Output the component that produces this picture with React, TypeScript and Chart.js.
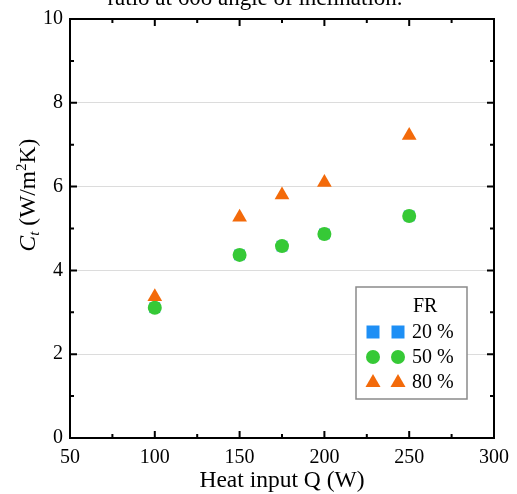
import React, { useEffect, useRef } from "react";
import { Chart, registerables } from "chart.js";

Chart.register(...registerables);

const heatInput = [100, 150, 175, 200, 250];
const fr20 = [3.11, 4.37, 4.58, 4.87, 5.3];
const fr50 = [3.11, 4.37, 4.58, 4.87, 5.3];
const fr80 = [3.37, 5.27, 5.8, 6.1, 7.22];
const seriesLabels = ["20 %", "50 %", "80 %"];
const xTicks = [50, 100, 150, 200, 250, 300];
const yTicks = [0, 2, 4, 6, 8, 10];

const BLUE = "#1e8ff5";
const GREEN = "#36c936";
const ORANGE = "#f36a0a";
const SERIF = "'Liberation Serif', 'DejaVu Serif', serif";

const framePlugin = {
  id: "framePlugin",
  afterDraw(chart: any) {
    const { ctx, chartArea: a, scales } = chart;
    const xs = scales.x;
    const ys = scales.y;
    ctx.save();
    ctx.strokeStyle = "#000";
    ctx.lineWidth = 2;
    ctx.strokeRect(a.left, a.top, a.right - a.left, a.bottom - a.top);
    ctx.beginPath();
    for (let v = 50; v <= 300; v += 25) {
      const px = xs.getPixelForValue(v);
      const len = v % 50 === 0 ? 7 : 4;
      ctx.moveTo(px, a.bottom);
      ctx.lineTo(px, a.bottom - len);
      ctx.moveTo(px, a.top);
      ctx.lineTo(px, a.top + len);
    }
    for (let v = 0; v <= 10; v += 1) {
      const py = ys.getPixelForValue(v);
      const len = v % 2 === 0 ? 7 : 4;
      ctx.moveTo(a.left, py);
      ctx.lineTo(a.left + len, py);
      ctx.moveTo(a.right, py);
      ctx.lineTo(a.right - len, py);
    }
    ctx.stroke();

    ctx.fillStyle = "#000";
    ctx.font = `23px ${SERIF}`;
    ctx.textAlign = "center";
    ctx.textBaseline = "alphabetic";
    ctx.fillText("ratio at 60o angle of inclination.", 255, 5);

    ctx.font = `23.5px ${SERIF}`;
    ctx.fillText("Heat input Q (W)", (a.left + a.right) / 2, 487);

    ctx.save();
    ctx.translate(35, 195);
    ctx.rotate(-Math.PI / 2);
    ctx.textAlign = "left";
    const parts = [
      { t: "C", font: `italic 23.5px ${SERIF}`, dy: 0 },
      { t: "t", font: `italic 15px ${SERIF}`, dy: 4 },
      { t: " (W/m", font: `23.5px ${SERIF}`, dy: 0 },
      { t: "2", font: `15px ${SERIF}`, dy: -9 },
      { t: "K)", font: `23.5px ${SERIF}`, dy: 0 },
    ];
    let total = 0;
    for (const p of parts) {
      ctx.font = p.font;
      total += ctx.measureText(p.t).width;
    }
    let x = -total / 2;
    for (const p of parts) {
      ctx.font = p.font;
      ctx.fillText(p.t, x, p.dy);
      x += ctx.measureText(p.t).width;
    }
    ctx.restore();

    const bx = 356, by = 287, bw = 111, bh = 112;
    ctx.fillStyle = "#fff";
    ctx.fillRect(bx, by, bw, bh);
    ctx.strokeStyle = "#8a8a8a";
    ctx.lineWidth = 1.5;
    ctx.strokeRect(bx, by, bw, bh);
    ctx.fillStyle = "#000";
    ctx.font = `20px ${SERIF}`;
    ctx.textAlign = "left";
    ctx.textBaseline = "middle";
    ctx.fillText("FR", 413, 307);
    const rows = [332, 357, 382];
    const styles = [
      { color: BLUE, kind: "rect" },
      { color: GREEN, kind: "circle" },
      { color: ORANGE, kind: "tri" },
    ];
    rows.forEach((ry, i) => {
      const s = styles[i];
      for (const mx of [373, 398]) {
        ctx.fillStyle = s.color;
        ctx.beginPath();
        if (s.kind === "rect") {
          ctx.rect(mx - 6.5, ry - 6.5, 13, 13);
        } else if (s.kind === "circle") {
          ctx.arc(mx, ry, 7, 0, Math.PI * 2);
        } else {
          ctx.moveTo(mx, ry - 8);
          ctx.lineTo(mx + 7.5, ry + 5);
          ctx.lineTo(mx - 7.5, ry + 5);
          ctx.closePath();
        }
        ctx.fill();
      }
      ctx.fillStyle = "#000";
      ctx.font = `20px ${SERIF}`;
      ctx.fillText(seriesLabels[i], 412, ry + 1);
    });
    ctx.restore();
  },
};

export default function App() {
  const ref = useRef<HTMLCanvasElement | null>(null);
  useEffect(() => {
    if (!ref.current) return;
    const chart = new Chart(ref.current, {
      type: "scatter",
      data: {
        datasets: [
          {
            label: seriesLabels[0],
            data: heatInput.map((q, i) => ({ x: q, y: fr20[i] })),
            pointStyle: "rect",
            pointRadius: 7.6,
            backgroundColor: BLUE,
            borderWidth: 0,
            order: 3,
          },
          {
            label: seriesLabels[1],
            data: heatInput.map((q, i) => ({ x: q, y: fr50[i] })),
            pointStyle: "circle",
            pointRadius: 7,
            backgroundColor: GREEN,
            borderWidth: 0,
            order: 2,
          },
          {
            label: seriesLabels[2],
            data: heatInput.map((q, i) => ({ x: q, y: fr80[i] })),
            pointStyle: "triangle",
            pointRadius: 8.5,
            backgroundColor: ORANGE,
            borderWidth: 0,
            order: 1,
          },
        ],
      },
      options: {
        responsive: false,
        animation: false,
        layout: { padding: { left: 0, right: 23, top: 17, bottom: 0 } },
        plugins: {
          legend: { display: false },
          tooltip: { enabled: false },
          title: { display: false },
        },
        scales: {
          x: {
            type: "linear",
            min: 50,
            max: 300,
            afterBuildTicks: (s: any) => {
              s.ticks = xTicks.map((v) => ({ value: v }));
            },
            afterFit: (s: any) => {
              s.height = 56;
            },
            ticks: {
              color: "#000",
              font: { family: SERIF, size: 20 },
              padding: 8,
              maxRotation: 0,
            },
            grid: { display: false, drawTicks: false },
            border: { display: false },
          },
          y: {
            min: 0,
            max: 10,
            afterBuildTicks: (s: any) => {
              s.ticks = yTicks.map((v) => ({ value: v }));
            },
            afterFit: (s: any) => {
              s.width = 70;
            },
            ticks: {
              color: "#000",
              font: { family: SERIF, size: 20 },
              padding: 7,
            },
            grid: { color: "#dcdcdc", lineWidth: 1, drawTicks: false },
            border: { display: false },
          },
        },
      },
      plugins: [framePlugin],
    });
    return () => chart.destroy();
  }, []);
  return (
    <div style={{ position: "fixed", left: 0, top: 0, width: 517, height: 494, background: "#fff" }}>
      <canvas ref={ref} width={517} height={494} />
    </div>
  );
}
